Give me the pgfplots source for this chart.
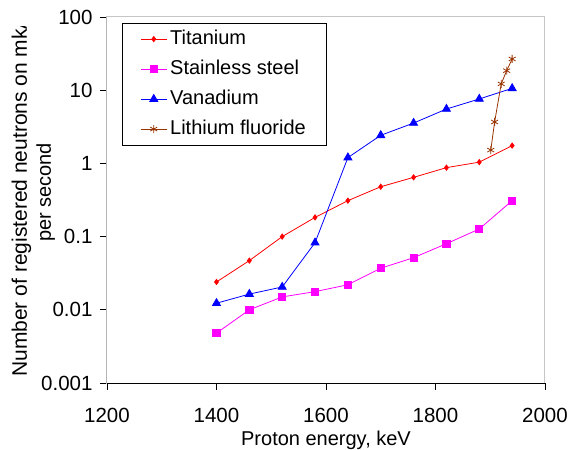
\documentclass[border=0pt]{standalone}
\usepackage{pgfplots}
\pgfplotsset{compat=1.18}
\usepackage{fontspec}
\setmainfont{Liberation Sans}
\definecolor{lifbrown}{RGB}{153,51,0}
\definecolor{timag}{RGB}{255,0,255}
\definecolor{tired}{RGB}{255,0,0}
\definecolor{tiblue}{RGB}{0,0,255}

\begin{document}
\begin{tikzpicture}
  \begin{axis}[
    at={(0,0)}, anchor=south west,
    scale only axis,
    width=438pt, height=366pt,
    xmin=1200, xmax=2000,
    ymode=log, ymin=0.001, ymax=100,
    xtick={1200,1400,1600,1800,2000},
    ytick={0.001,0.01,0.1,1,10,100},
    yticklabels={0.001,0.01,0.1,1,10,100},
    yminorticks=false,
    /pgf/number format/assume math mode=true,
    /pgf/number format/1000 sep={},
    tick align=outside,
    xtick pos=bottom, ytick pos=left,
    major tick length=7pt,
    tick style={black, line width=0.8pt},
    axis line style={draw=gray!45, line width=1pt},
    tick label style={font=\fontsize{20.5}{24}\selectfont},
    xticklabel style={yshift=-15pt},
    yticklabel style={xshift=-4pt},
    xlabel={Proton energy, keV},
    xlabel style={font=\fontsize{20}{24}\selectfont, yshift=-1pt},
    legend cell align=left,
    legend style={at={(0.0342,0.9844)}, anchor=north west,
      draw=black, line width=0.8pt,
      font=\fontsize{20}{24}\selectfont,
      nodes={inner xsep=3pt, inner ysep=2pt, text height=15pt, text depth=5pt},
      row sep=6pt, inner xsep=18pt, inner ysep=4pt},
    legend image code/.code={\draw[mark repeat=2,mark phase=2,#1] plot coordinates {(0pt,0pt)(13pt,0pt)(26pt,0pt)};},
  ]
    \addplot[tired, line width=0.8pt, mark=diamond*, mark size=2.6pt] coordinates {
      (1400,0.024)(1460,0.047)(1520,0.100)(1580,0.183)(1640,0.31)
      (1700,0.48)(1760,0.645)(1820,0.875)(1880,1.04)(1940,1.75)};
    \addlegendentry{Titanium}
    \addplot[timag, line width=0.8pt, mark=square*, mark size=3.6pt] coordinates {
      (1400,0.0048)(1460,0.010)(1520,0.015)(1580,0.0177)(1640,0.022)
      (1700,0.037)(1760,0.0515)(1820,0.080)(1880,0.127)(1940,0.31)};
    \addlegendentry{Stainless steel}
    \addplot[tiblue, line width=0.8pt, mark=triangle*, mark size=4.6pt] coordinates {
      (1400,0.0123)(1460,0.0164)(1520,0.0205)(1580,0.0826)(1640,1.2)
      (1700,2.42)(1760,3.56)(1820,5.53)(1880,7.59)(1940,10.6)};
    \addlegendentry{Vanadium}
    \addplot[lifbrown, line width=0.8pt, mark=asterisk, mark size=4pt] coordinates {
      (1901,1.52)(1908,3.68)(1920,12.2)(1930,18.5)(1940,26.7)};
    \addlegendentry{Lithium fluoride}
    % dark left and bottom axis lines
    \draw[black!75, line width=1pt] (rel axis cs:0,1) -- (rel axis cs:0,0);
    \draw[black, line width=1pt] (rel axis cs:0,0) -- (rel axis cs:1,0);
  \end{axis}
  \begin{scope}
    \clip (-120pt,-70pt) rectangle (-70pt,356pt);
    \node[rotate=90, anchor=base west, inner sep=0pt, font=\fontsize{21}{24}\selectfont]
      at (-80pt,6pt) {Number of registered neutrons on mkA};
  \end{scope}
  \node[rotate=90, anchor=base, inner sep=0pt, font=\fontsize{20}{24}\selectfont]
    at (-56pt,190.5pt) {per second};
  \pgfresetboundingbox
  \path[use as bounding box] (-107pt,-66pt) rectangle (462pt,383pt);
\end{tikzpicture}
\end{document}
